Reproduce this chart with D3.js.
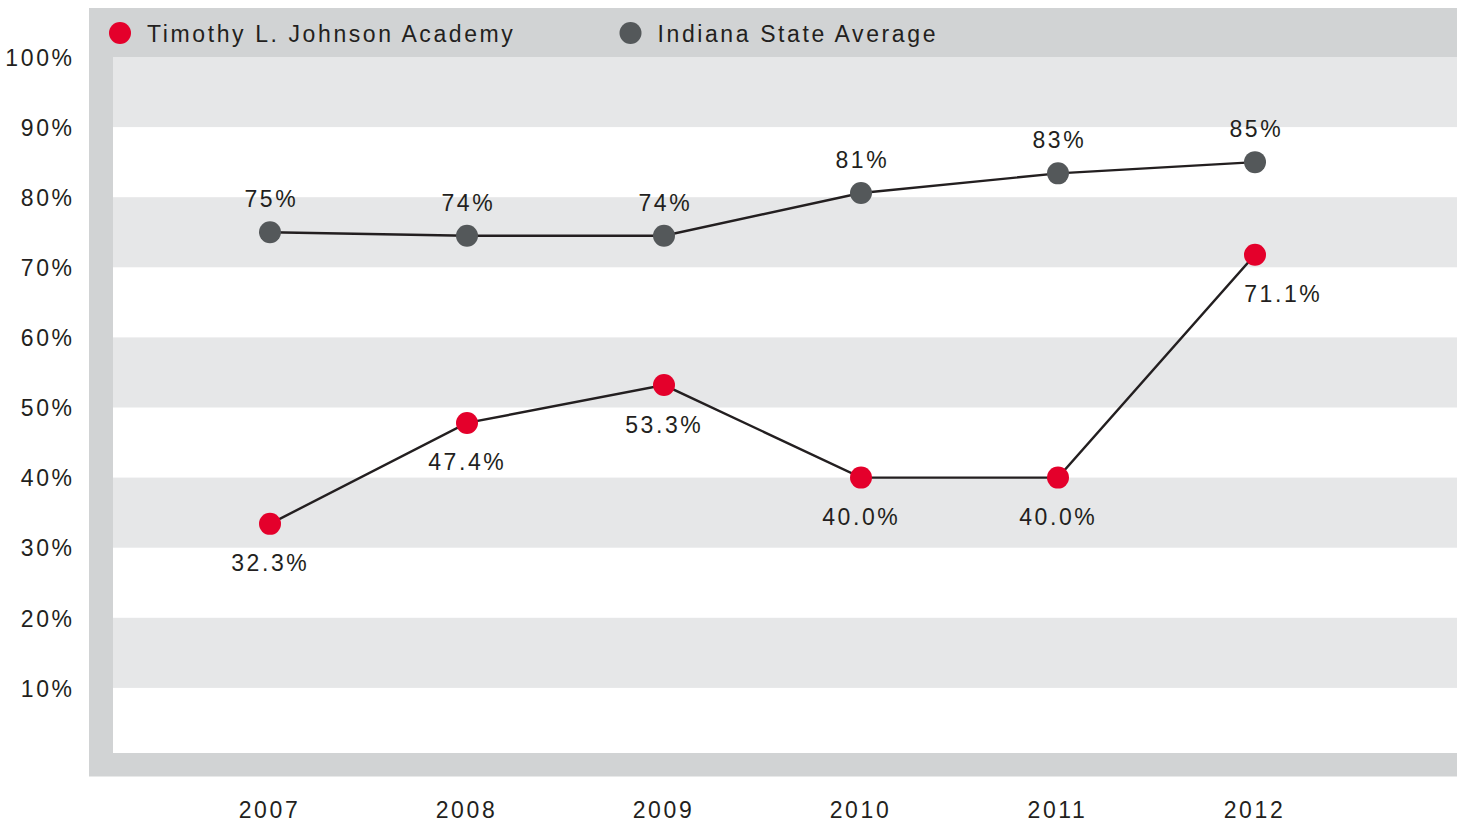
<!DOCTYPE html>
<html>
<head>
<meta charset="utf-8">
<title>Timothy L. Johnson Academy vs Indiana State Average</title>
<script src="https://cdn.jsdelivr.net/npm/d3@7"></script>
<style>
body { margin: 0; background: #fff; }
svg text {
	font-family: "Liberation Sans", Arial, Helvetica, sans-serif;
	font-size: 23px;
	letter-spacing: 2.6px;
	fill: #231f20;
}
.axis path, .axis line { display: none; }
</style>
</head>
<body>
<script>
// data
var years = [2007, 2008, 2009, 2010, 2011, 2012];
var seriesNames = ["Timothy L. Johnson Academy", "Indiana State Average"];
var academy = [33.4, 47.8, 53.2, 40.0, 40.0, 71.8];
var academyLabels = ["32.3%", "47.4%", "53.3%", "40.0%", "40.0%", "71.1%"];
var state = [75.0, 74.5, 74.5, 80.6, 83.4, 85.0];
var stateLabels = ["75%", "74%", "74%", "81%", "83%", "85%"];
var yTicks = [10, 20, 30, 40, 50, 60, 70, 80, 90, 100];

var width = 1460, height = 822;
var ls = 2.6; // letter spacing, pushes anchors a bit

var svg = d3.select("body").append("svg")
	.attr("width", width)
	.attr("height", height);

var x = d3.scaleLinear().domain([2007, 2012]).range([270, 1255]);
var y = d3.scaleLinear().domain([0, 100]).range([758, 57]);

// frame
svg.append("rect")
	.attr("x", 89).attr("y", 8)
	.attr("width", 1368).attr("height", 768.5)
	.attr("fill", "#d1d3d4");
svg.append("rect")
	.attr("x", 113).attr("y", y(100))
	.attr("width", 1344).attr("height", 753 - y(100))
	.attr("fill", "#fff");

// alternating bands
svg.selectAll(".band")
	.data(yTicks.filter(function(d){ return d % 20 == 10; }))
	.enter().append("rect")
	.attr("class", "band")
	.attr("x", 113)
	.attr("y", function(d){ return y(d + 10); })
	.attr("width", 1344)
	.attr("height", function(d){ return y(d) - y(d + 10); })
	.attr("fill", "#e6e7e8");

// axes
svg.append("g")
	.attr("class", "axis")
	.attr("transform", "translate(" + (72 + ls) + ",0)")
	.call(d3.axisLeft(y).tickValues(yTicks).tickSize(0).tickPadding(0)
		.tickFormat(function(d){ return d + "%"; }))
	.call(function(g){
		g.selectAll("text").attr("dy", "0.36em");
		g.attr("font-family", null).attr("font-size", null);
	});

svg.append("g")
	.attr("class", "axis")
	.attr("transform", "translate(-1,801.7)")
	.call(d3.axisBottom(x).tickValues(years).tickSize(0).tickPadding(0)
		.tickFormat(d3.format("d")))
	.call(function(g){
		g.attr("font-family", null).attr("font-size", null);
	});

// lines
var line = d3.line()
	.x(function(d, i){ return x(years[i]); })
	.y(function(d){ return y(d); });

[state, academy].forEach(function(s){
	svg.append("path")
		.datum(s)
		.attr("d", line)
		.attr("fill", "none")
		.attr("stroke", "#231f20")
		.attr("stroke-width", 2.4);
});

var colors = ["#e4002b", "#54585a"];

// dots
svg.selectAll(".dotS")
	.data(state)
	.enter().append("circle")
	.attr("cx", function(d, i){ return x(years[i]); })
	.attr("cy", function(d){ return y(d); })
	.attr("r", 11)
	.attr("fill", colors[1]);

svg.selectAll(".dotA")
	.data(academy)
	.enter().append("circle")
	.attr("cx", function(d, i){ return x(years[i]); })
	.attr("cy", function(d){ return y(d); })
	.attr("r", 11)
	.attr("fill", colors[0]);

// value labels
svg.selectAll(".labS")
	.data(state)
	.enter().append("text")
	.attr("x", function(d, i){ return x(years[i]) + ls / 2; })
	.attr("y", function(d){ return y(d) - 25; })
	.attr("text-anchor", "middle")
	.text(function(d, i){ return stateLabels[i]; });

svg.selectAll(".labA")
	.data(academy)
	.enter().append("text")
	.attr("x", function(d, i){
		return x(years[i]) + ls / 2 - 1 + (i == academy.length - 1 ? 28 : 0);
	})
	.attr("y", function(d){ return y(d) + 47.5; })
	.attr("text-anchor", "middle")
	.text(function(d, i){ return academyLabels[i]; });

// legend
var legendX = [120, 630.5];
var legend = svg.selectAll(".legend")
	.data(seriesNames)
	.enter().append("g")
	.attr("transform", function(d, i){ return "translate(" + legendX[i] + ",33)"; });
legend.append("circle")
	.attr("r", 11)
	.attr("fill", function(d, i){ return colors[i]; });
legend.append("text")
	.attr("x", 27)
	.attr("y", 8.7)
	.text(function(d){ return d; });
</script>
</body>
</html>
